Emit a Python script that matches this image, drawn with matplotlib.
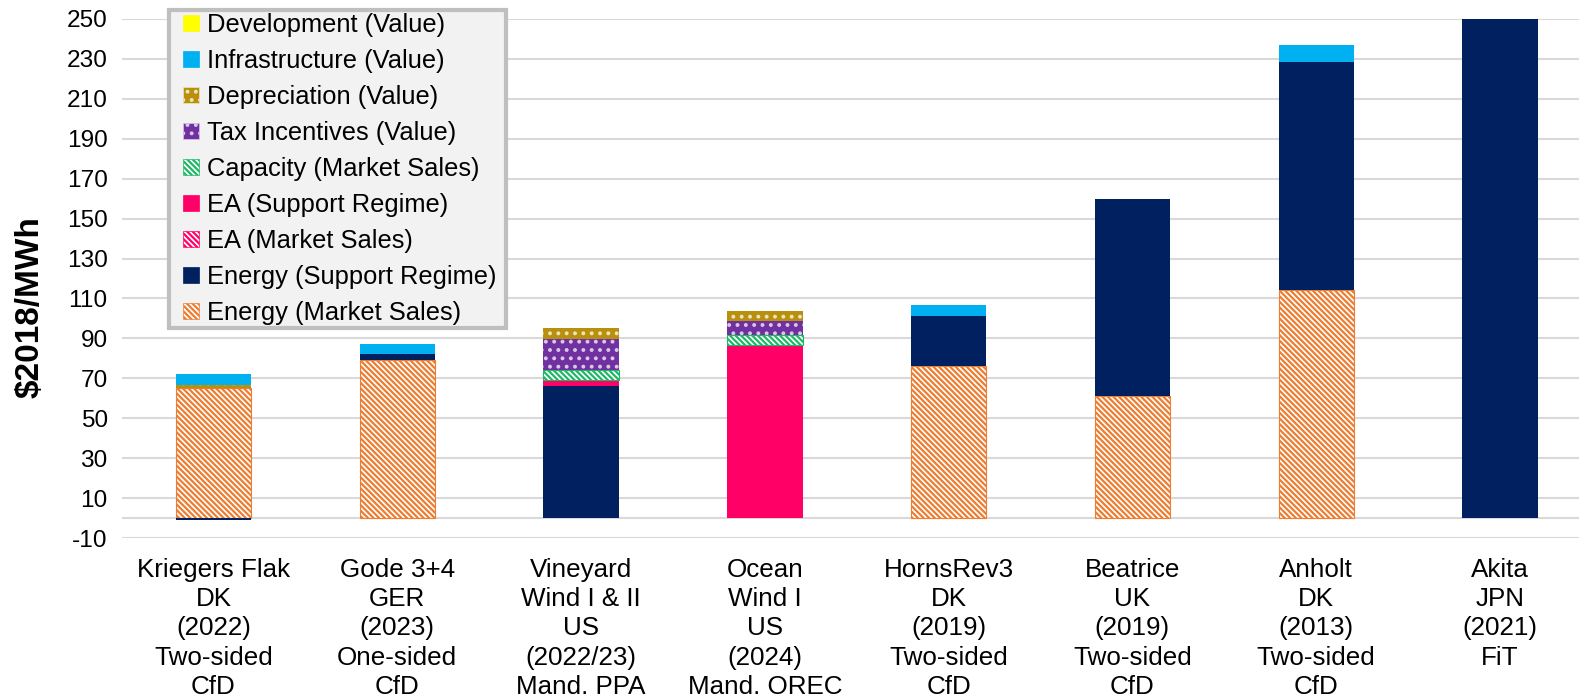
import numpy as np
import matplotlib.pyplot as plt
from matplotlib.patches import Patch, Rectangle
from matplotlib.legend_handler import HandlerPatch

plt.rcParams['font.family'] = ['Liberation Sans', 'DejaVu Sans']
plt.rcParams['hatch.linewidth'] = 1.6
plt.rcParams['axes.unicode_minus'] = False

categories = ['Kriegers Flak\nDK\n(2022)\nTwo-sided\nCfD',
              'Gode 3+4\nGER\n(2023)\nOne-sided\nCfD',
              'Vineyard\nWind I & II\nUS\n(2022/23)\nMand. PPA',
              'Ocean\nWind I\nUS\n(2024)\nMand. OREC',
              'HornsRev3\nDK\n(2019)\nTwo-sided\nCfD',
              'Beatrice\nUK\n(2019)\nTwo-sided\nCfD',
              'Anholt\nDK\n(2013)\nTwo-sided\nCfD',
              'Akita\nJPN\n(2021)\nFiT']

# stacking order, bottom to top
energy_market = [65.3, 79, 0, 0, 76.3, 61.1, 114, 0]
energy_support = [-1, 3, 66, 0, 24.9, 98.7, 114.5, 250]
ea_market = [0, 0, 0, 0, 0, 0, 0, 0]
ea_support = [0, 0, 3.3, 86.5, 0, 0, 0, 0]
capacity = [0, 0, 5, 5, 0, 0, 0, 0]
tax_incentives = [0, 0, 15.5, 7, 0, 0, 0, 0]
depreciation = [1.2, 0, 5.5, 5, 0, 0, 0, 0]
infrastructure = [5.8, 5, 0, 0, 5.6, 0, 8.3, 0]
development = [0, 0, 0, 0, 0, 0, 0, 0]

STRIPE = '\\' * 6
series = [
    ('Energy (Market Sales)', energy_market, 'white', '#ED7D31', STRIPE),
    ('Energy (Support Regime)', energy_support, '#002060', '#002060', None),
    ('EA (Market Sales)', ea_market, 'white', '#FF0066', STRIPE),
    ('EA (Support Regime)', ea_support, '#FF0066', '#FF0066', None),
    ('Capacity (Market Sales)', capacity, 'white', '#1EB865', STRIPE),
    ('Tax Incentives (Value)', tax_incentives, '#7030A0', '#D8C8E8', '..'),
    ('Depreciation (Value)', depreciation, '#B8900C', '#EDE3C0', '..'),
    ('Infrastructure (Value)', infrastructure, '#00B0F0', '#00B0F0', None),
    ('Development (Value)', development, '#FFFF00', '#FFFF00', None),
]


def square(legend, orig_handle, xdescent, ydescent, width, height, fontsize):
    s = 11
    return Rectangle((-xdescent + width - s - 1, -ydescent + (height - s) / 2), s, s)


fig = plt.figure(figsize=(15.79, 6.98), dpi=100)
ax = fig.add_axes([0.077, 0.229, 0.923, 0.744])

x = np.arange(len(categories))
pos_bottom = np.zeros(len(categories))
neg_bottom = np.zeros(len(categories))
handles = []
for name, vals, fc, ec, hatch in series:
    vals = np.array(vals, dtype=float)
    bottom = np.where(vals >= 0, pos_bottom, neg_bottom)
    m = vals != 0
    lw = 0.8 if hatch == STRIPE else 0
    if m.any():
        ax.bar(x[m], vals[m], 0.41, bottom=bottom[m], color=fc, edgecolor=ec,
               hatch=hatch, linewidth=lw, zorder=3)
    pos_bottom += np.where(vals >= 0, vals, 0)
    neg_bottom += np.where(vals < 0, vals, 0)
    handles.append(Patch(facecolor=fc, edgecolor=ec, hatch=hatch, linewidth=0.5, label=name))

ax.set_ylim(-10, 250)
ax.set_xlim(-0.5, 7.43)
ax.set_yticks(np.arange(-10, 251, 20))
ax.tick_params(axis='y', length=0, labelsize=17.6, pad=10)
ax.tick_params(axis='x', length=0, labelsize=18.7, pad=14)
ax.set_xticks(x)
ax.set_xticklabels(categories, linespacing=1.28)
ax.grid(axis='y', color='#d9d9d9', linewidth=1.5, zorder=0)
ax.axhline(0, color='#d9d9d9', linewidth=1.5, zorder=1)
for s in ax.spines.values():
    s.set_visible(False)
ax.set_ylabel('$2018/MWh', fontsize=24, fontweight='bold')
ax.yaxis.set_label_coords(-0.052, 0.445)

leg = ax.legend(handles=handles[::-1], loc='upper left',
                bbox_to_anchor=(0.0325, 0, 0.2313, 1.0173), mode='expand',
                borderaxespad=0, fontsize=18.4, frameon=True, fancybox=False,
                handlelength=1.1, handleheight=0.55, handletextpad=0.25,
                labelspacing=0.47, borderpad=0.12,
                handler_map={Patch: HandlerPatch(patch_func=square)})
leg.get_frame().set_facecolor('#f2f2f2')
leg.get_frame().set_edgecolor('#bfbfbf')
leg.get_frame().set_linewidth(3)
leg.get_frame().set_alpha(1)
leg.set_zorder(5)

fig.savefig('out.png', dpi=100)
